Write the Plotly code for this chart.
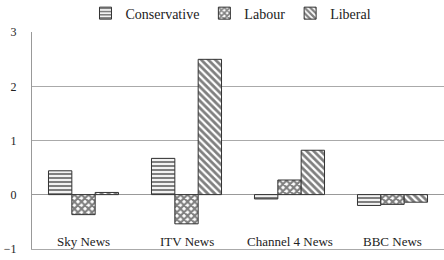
import plotly.graph_objects as go

categories = ["Sky News", "ITV News", "Channel 4 News", "BBC News"]
conservative = [0.44, 0.67, -0.08, -0.20]
labour = [-0.37, -0.54, 0.27, -0.18]
liberal = [0.04, 2.50, 0.82, -0.14]
y_ticks = [-1, 0, 1, 2, 3]

FONT = "Liberation Serif, Times New Roman, serif"
series = [
    ("Conservative", conservative, "-", 4, 0.55),
    ("Labour", labour, "x", 5, 0.65),
    ("Liberal", liberal, "\\", 5, 0.55),
]

fig = go.Figure()
for name, vals, shape, size, sol in series:
    fig.add_trace(go.Bar(
        name=name, x=categories, y=vals,
        marker=dict(color="white",
                    line=dict(color="#333333", width=1),
                    pattern=dict(shape=shape, fgcolor="black", bgcolor="white",
                                 size=size, solidity=sol, fillmode="overlay")),
    ))

# category labels sit inside the plot, just above the bottom gridline
for cat in categories:
    fig.add_annotation(x=cat, xref="x", y=0, yref="paper", yanchor="bottom",
                       text=cat, showarrow=False, yshift=-2,
                       font=dict(family=FONT, size=13, color="#222222"))

fig.update_layout(
    width=444, height=260,
    margin=dict(l=32, r=0, t=32, b=11, autoexpand=False),
    paper_bgcolor="white", plot_bgcolor="white",
    barmode="group", bargap=0.32, bargroupgap=0,
    font=dict(family=FONT, size=13, color="#222222"),
    legend=dict(orientation="h", x=0.483, xanchor="center", y=1.085, yanchor="middle",
                font=dict(family=FONT, size=14), itemwidth=30,
                tracegroupgap=0),
    showlegend=True,
    xaxis=dict(range=[-0.5, 3.5], showgrid=False, showline=True, linecolor="#aaaaaa",
               linewidth=1, zeroline=False,
               ticks="", showticklabels=False, automargin=False),
    xaxis2=dict(overlaying="x", matches="x", anchor="free", position=0.25,
                tickvals=[0.5, 1.5, 2.5], ticks="inside", ticklen=4, tickcolor="#999999",
                showticklabels=False, showgrid=False, showline=False, zeroline=False),
    yaxis=dict(range=[-1.005, 3.005], tickvals=y_ticks, showgrid=True, gridcolor="#aaaaaa",
               gridwidth=1, zeroline=True, zerolinecolor="#999999", zerolinewidth=1,
               showline=True, linecolor="#999999", linewidth=1, automargin=False,
               ticks="", tickfont=dict(size=12), ticklabelstandoff=12),
)
# remove the default 8px page margin so the figure fills the window exactly
fig.write_html("out.html", config={"displayModeBar": False},
               post_script="document.body.style.margin='0';")
